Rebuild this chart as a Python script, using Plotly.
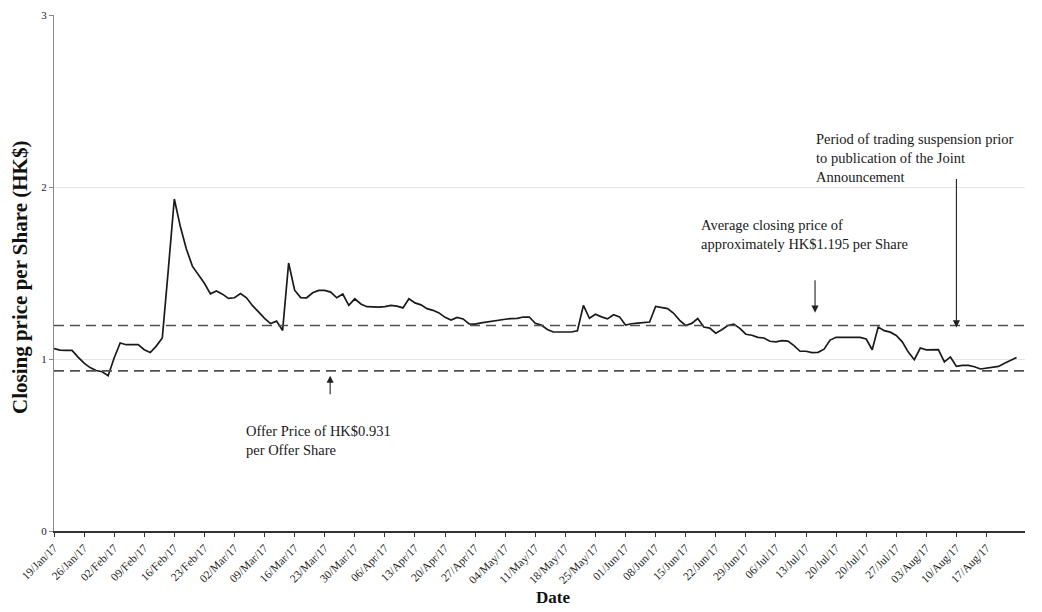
import plotly.graph_objects as go

# Closing price per Share (HK$), one value per trading day (category index)
prices = [
    1.060, 1.052, 1.050, 1.050, 1.011, 0.976, 0.950, 0.933, 0.926, 0.903,
    1.006, 1.093, 1.083, 1.083, 1.083, 1.054, 1.038, 1.075, 1.122, 1.520,
    1.930, 1.770, 1.640, 1.540, 1.493, 1.440, 1.379, 1.395, 1.377, 1.352,
    1.356, 1.380, 1.356, 1.310, 1.274, 1.236, 1.206, 1.220, 1.166, 1.558,
    1.400, 1.357, 1.356, 1.385, 1.399, 1.399, 1.389, 1.356, 1.378, 1.312,
    1.350, 1.320, 1.304, 1.302, 1.302, 1.305, 1.312, 1.307, 1.297, 1.350,
    1.326, 1.315, 1.293, 1.283, 1.268, 1.242, 1.226, 1.242, 1.233, 1.204,
    1.203, 1.210, 1.216, 1.220, 1.224, 1.231, 1.235, 1.236, 1.244, 1.244,
    1.208, 1.197, 1.172, 1.157, 1.157, 1.157, 1.157, 1.164, 1.312, 1.237,
    1.260, 1.245, 1.233, 1.257, 1.245, 1.197, 1.205, 1.208, 1.211, 1.215,
    1.306, 1.298, 1.293, 1.266, 1.225, 1.195, 1.207, 1.235, 1.186, 1.180,
    1.150, 1.170, 1.195, 1.203, 1.178, 1.144, 1.138, 1.126, 1.122, 1.103,
    1.100, 1.107, 1.104, 1.078, 1.045, 1.045, 1.037, 1.039, 1.057, 1.110,
    1.126, 1.126, 1.126, 1.126, 1.126, 1.116, 1.054, 1.186, 1.165, 1.156,
    1.137, 1.100, 1.040, 0.996, 1.064, 1.053, 1.052, 1.054, 0.983, 1.012,
    0.957, 0.963, 0.963, 0.955, 0.942, 0.948, 0.953, 0.957, 0.975, 0.990,
    1.009,
]

tick_labels = [
    "19/Jan/17", "26/Jan/17", "02/Feb/17", "09/Feb/17", "16/Feb/17", "23/Feb/17",
    "02/Mar/17", "09/Mar/17", "16/Mar/17", "23/Mar/17", "30/Mar/17", "06/Apr/17",
    "13/Apr/17", "20/Apr/17", "27/Apr/17", "04/May/17", "11/May/17", "18/May/17",
    "25/May/17", "01/Jun/17", "08/Jun/17", "15/Jun/17", "22/Jun/17", "29/Jun/17",
    "06/Jul/17", "13/Jul/17", "20/Jul/17", "20/Jul/17", "27/Jul/17", "03/Aug/17",
    "10/Aug/17", "17/Aug/17",
]
tick_step = 5

offer_price = 0.931
average_price = 1.195

x_idx = list(range(len(prices)))
tick_vals = [i * tick_step for i in range(len(tick_labels))]
x_max = 161.4

serif = "Liberation Serif, Times New Roman, serif"

# the page body adds an 8px offset; margins are set so the plot lands at
# window pixels x 54..1025, y 15..531
W, H = 1042, 612
ML, MR, MT, MB = 46, 25, 7, 89
plot_w = W - ML - MR
plot_h = H - MT - MB


def px_to_paper(wx, wy):
    fx, fy = wx - 8, wy - 8
    return (fx - ML) / plot_w, (H - MB - fy) / plot_h


fig = go.Figure()
fig.add_trace(go.Scatter(
    x=x_idx, y=prices, mode="lines",
    line=dict(color="#1a1a1a", width=1.7),
    hoverinfo="skip", showlegend=False,
))

for val in (average_price, offer_price):
    fig.add_shape(type="line", xref="x", yref="y", x0=0, x1=x_max, y0=val, y1=val,
                  line=dict(color="#505050", width=1.6, dash="10px,6px"))

# arrows
arrow_style = dict(showarrow=True, arrowhead=2, arrowsize=1.3, arrowwidth=1.1,
                   arrowcolor="#222", text="", xref="x", yref="y")
fig.add_annotation(x=45.9, y=0.903, ax=0, ay=20, **arrow_style)
fig.add_annotation(x=126.5, y=1.269, ax=0, ay=-34, **arrow_style)
fig.add_annotation(x=150.0, y=1.183, ax=0, ay=-150, **arrow_style)

ann_font = dict(family=serif, size=14.5, color="#1a1a1a")
fig.add_annotation(x=31.6, y=0.64, xref="x", yref="y", xanchor="left", yanchor="top",
                   showarrow=False, align="left", font=ann_font,
                   text="Offer Price of HK$0.931<br>per Offer Share")
fig.add_annotation(x=107.2, y=1.84, xref="x", yref="y", xanchor="left", yanchor="top",
                   showarrow=False, align="left", font=ann_font,
                   text="Average closing price of<br>approximately HK$1.195 per Share")
fig.add_annotation(x=126.3, y=2.34, xref="x", yref="y", xanchor="left", yanchor="top",
                   showarrow=False, align="left", font=ann_font,
                   text="Period of trading suspension prior<br>to publication of the Joint<br>Announcement")

# axis titles
dx, dy = px_to_paper(553, 597)
fig.add_annotation(x=dx, y=dy, xref="paper", yref="paper", showarrow=False,
                   xanchor="center", yanchor="middle",
                   text="<b>Date</b>", font=dict(family=serif, size=17, color="#111"))
tx, ty = px_to_paper(20, 278)
fig.add_annotation(x=tx, y=ty, xref="paper", yref="paper", showarrow=False,
                   xanchor="center", yanchor="middle", textangle=-90,
                   text="<b>Closing price per Share (HK$)</b>",
                   font=dict(family=serif, size=21, color="#111"))

fig.update_xaxes(
    range=[0, x_max], tickmode="array", tickvals=tick_vals, ticktext=tick_labels,
    tickangle=-45, tickfont=dict(family=serif, size=11.5, color="#222"),
    showline=True, linecolor="#333", linewidth=1.5, ticks="outside", ticklen=4,
    tickcolor="#333", showgrid=False, zeroline=False, automargin=False,
)
fig.update_yaxes(
    range=[0, 3], tickvals=[0, 1, 2, 3], ticktext=["0", "1", "2", "3"],
    tickfont=dict(family=serif, size=11, color="#222"),
    showline=True, linecolor="#888", linewidth=1.2, ticks="outside", ticklen=4,
    tickcolor="#888", showgrid=True, gridcolor="#e6e6e6", gridwidth=1, zeroline=False,
    automargin=False,
)

fig.update_layout(
    width=W, height=H,
    margin=dict(l=ML, r=MR, t=MT, b=MB),
    paper_bgcolor="white", plot_bgcolor="white",
    showlegend=False,
)

fig.write_html("out.html")
